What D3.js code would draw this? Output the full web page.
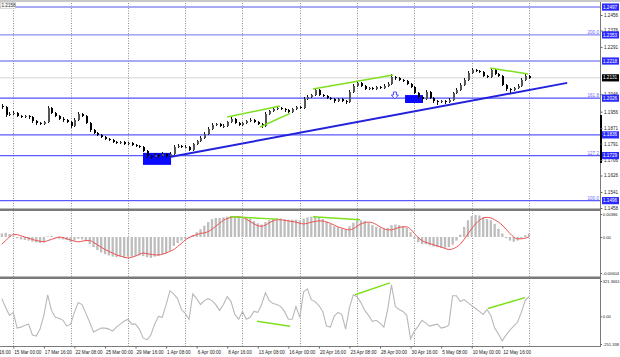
<!DOCTYPE html>
<html><head><meta charset="utf-8">
<script src="https://cdn.jsdelivr.net/npm/d3@7"></script>
<style>body{margin:0;background:#fff}svg{display:block}text{font-family:"Liberation Sans",Arial,sans-serif}</style>
</head><body><svg id="c" width="620" height="357"></svg>
<script>
// ---------- DATA ----------
const firstOpen = 1.1985;
const closes=[1.1980,1.1939,1.1944,1.1949,1.1933,1.1928,1.1933,1.1928,1.1907,1.1897,
1.1892,1.1902,1.1975,1.1949,1.1933,1.1918,1.1913,1.1902,1.1882,1.1913,
1.1944,1.1933,1.1897,1.1861,1.1846,1.1836,1.1825,1.1815,1.1810,1.1799,
1.1794,1.1799,1.1789,1.1794,1.1784,1.1779,1.1774,1.1753,1.1727,1.1722,
1.1732,1.1727,1.1737,1.1727,1.1737,1.1774,1.1779,1.1774,1.1774,1.1758,
1.1789,1.1805,1.1820,1.1841,1.1867,1.1887,1.1892,1.1882,1.1882,1.1902,
1.1918,1.1897,1.1887,1.1897,1.1907,1.1913,1.1902,1.1892,1.1882,1.1944,
1.1959,1.1970,1.1975,1.1970,1.1964,1.1954,1.1970,1.1980,1.1975,1.2021,
1.2032,1.2042,1.2068,1.2042,1.2037,1.2027,1.2021,1.2011,1.2021,1.2011,
1.2006,1.2058,1.2089,1.2104,1.2089,1.2073,1.2078,1.2073,1.2083,1.2078,
1.2089,1.2099,1.2135,1.2130,1.2120,1.2115,1.2099,1.2083,1.2052,1.2032,
1.2021,1.2058,1.2027,1.2011,1.2006,1.2011,1.2006,1.2017,1.2052,1.2068,
1.2094,1.2120,1.2156,1.2172,1.2166,1.2161,1.2141,1.2135,1.2172,1.2151,
1.2141,1.2094,1.2073,1.2068,1.2078,1.2089,1.2120,1.2141,1.2131];
const highs=[1.1996,1.1986,1.1952,1.1958,1.1955,1.1940,1.1941,1.1939,1.1934,1.1913,
1.1904,1.1910,1.1988,1.1982,1.1955,1.1940,1.1926,1.1919,1.1908,1.1921,
1.1952,1.1950,1.1939,1.1903,1.1868,1.1852,1.1842,1.1831,1.1822,1.1816,
1.1806,1.1807,1.1805,1.1801,1.1800,1.1790,1.1786,1.1780,1.1758,1.1734,
1.1740,1.1739,1.1745,1.1743,1.1746,1.1782,1.1788,1.1785,1.1783,1.1780,
1.1796,1.1812,1.1828,1.1849,1.1875,1.1895,1.1900,1.1898,1.1890,1.1910,
1.1927,1.1924,1.1903,1.1905,1.1915,1.1921,1.1919,1.1908,1.1898,1.1952,
1.1967,1.1978,1.1984,1.1981,1.1976,1.1970,1.1977,1.1988,1.1986,1.2030,
1.2040,1.2050,1.2079,1.2073,1.2048,1.2043,1.2033,1.2027,1.2029,1.2027,
1.2017,1.2066,1.2097,1.2114,1.2110,1.2095,1.2086,1.2084,1.2091,1.2089,
1.2097,1.2107,1.2150,1.2143,1.2137,1.2126,1.2121,1.2105,1.2089,1.2058,
1.2038,1.2066,1.2063,1.2033,1.2017,1.2019,1.2017,1.2025,1.2060,1.2076,
1.2102,1.2128,1.2165,1.2181,1.2178,1.2173,1.2167,1.2147,1.2180,1.2177,
1.2157,1.2147,1.2100,1.2079,1.2086,1.2097,1.2128,1.2149,1.2146];
const lows=[1.1972,1.1931,1.1933,1.1938,1.1926,1.1921,1.1922,1.1920,1.1900,1.1889,
1.1885,1.1886,1.1898,1.1942,1.1926,1.1911,1.1905,1.1895,1.1874,1.1877,
1.1908,1.1926,1.1890,1.1853,1.1839,1.1829,1.1818,1.1808,1.1803,1.1792,
1.1787,1.1788,1.1782,1.1783,1.1777,1.1772,1.1767,1.1746,1.1719,1.1712,
1.1716,1.1719,1.1720,1.1719,1.1721,1.1732,1.1768,1.1767,1.1766,1.1751,
1.1753,1.1783,1.1799,1.1814,1.1835,1.1861,1.1880,1.1875,1.1874,1.1876,
1.1896,1.1890,1.1880,1.1881,1.1891,1.1901,1.1895,1.1885,1.1872,1.1877,
1.1938,1.1953,1.1964,1.1963,1.1957,1.1947,1.1948,1.1964,1.1968,1.1970,
1.2015,1.2026,1.2037,1.2035,1.2030,1.2020,1.2014,1.2003,1.2005,1.2004,
1.1995,1.2000,1.2052,1.2083,1.2082,1.2066,1.2067,1.2066,1.2067,1.2071,
1.2072,1.2083,1.2094,1.2122,1.2113,1.2108,1.2092,1.2076,1.2045,1.2024,
1.2012,1.2016,1.2020,1.2003,1.1992,1.1999,1.1998,1.2000,1.2012,1.2046,
1.2062,1.2088,1.2114,1.2150,1.2159,1.2154,1.2134,1.2128,1.2130,1.2144,
1.2134,1.2087,1.2063,1.2054,1.2061,1.2072,1.2083,1.2114,1.2124];
const macdHist=[0.0006,0.0007,0.0005,0.0001,-0.0002,-0.0004,-0.0005,-0.0006,-0.0008,-0.0009,
-0.0010,-0.0009,0.0001,0.0002,-0.0001,-0.0003,-0.0004,-0.0005,-0.0008,-0.0006,
-0.0003,-0.0004,-0.0007,-0.0012,-0.0017,-0.0022,-0.0026,-0.0029,-0.0031,-0.0033,
-0.0034,-0.0033,-0.0034,-0.0033,-0.0033,-0.0032,-0.0031,-0.0032,-0.0034,-0.0035,
-0.0033,-0.0032,-0.0029,-0.0027,-0.0023,-0.0015,-0.0010,-0.0006,-0.0003,-0.0002,
0.0003,0.0008,0.0013,0.0019,0.0025,0.0030,0.0032,0.0032,0.0033,0.0034,
0.0035,0.0034,0.0033,0.0033,0.0032,0.0031,0.0027,0.0023,0.0021,0.0025,
0.0028,0.0030,0.0031,0.0031,0.0030,0.0029,0.0029,0.0029,0.0028,0.0031,
0.0033,0.0034,0.0035,0.0033,0.0030,0.0026,0.0022,0.0018,0.0016,0.0014,
0.0013,0.0018,0.0024,0.0028,0.0028,0.0027,0.0024,0.0020,0.0017,0.0015,
0.0014,0.0015,0.0020,0.0021,0.0020,0.0018,0.0015,0.0008,-0.0003,-0.0009,
-0.0012,-0.0012,-0.0014,-0.0016,-0.0017,-0.0018,-0.0018,-0.0017,-0.0013,-0.0006,
0.0004,0.0017,0.0028,0.0035,0.0037,0.0036,0.0033,0.0030,0.0028,0.0022,
0.0014,0.0006,-0.0002,-0.0006,-0.0008,-0.0006,-0.0002,0.0003,0.0006];
const macdSignal=[-0.0012,-0.0006,0.0000,0.0004,0.0004,0.0002,0.0000,-0.0002,-0.0004,-0.0006,
-0.0007,-0.0008,-0.0006,-0.0004,-0.0002,0.0000,-0.0001,-0.0003,-0.0005,-0.0007,
-0.0008,-0.0007,-0.0006,-0.0006,-0.0009,-0.0013,-0.0017,-0.0021,-0.0024,-0.0027,
-0.0030,-0.0032,-0.0034,-0.0035,-0.0034,-0.0032,-0.0029,-0.0027,-0.0028,-0.0029,
-0.0030,-0.0030,-0.0029,-0.0027,-0.0024,-0.0021,-0.0016,-0.0011,-0.0005,-0.0001,
0.0002,0.0004,0.0006,0.0007,0.0009,0.0013,0.0018,0.0023,0.0028,0.0031,
0.0033,0.0034,0.0034,0.0033,0.0030,0.0026,0.0022,0.0019,0.0018,0.0020,
0.0024,0.0027,0.0029,0.0029,0.0028,0.0027,0.0026,0.0025,0.0023,0.0022,
0.0023,0.0025,0.0026,0.0027,0.0027,0.0025,0.0023,0.0020,0.0017,0.0015,
0.0013,0.0012,0.0014,0.0018,0.0022,0.0024,0.0025,0.0024,0.0021,0.0017,
0.0014,0.0012,0.0012,0.0014,0.0016,0.0017,0.0017,0.0013,0.0006,-0.0001,
-0.0006,-0.0009,-0.0011,-0.0013,-0.0015,-0.0017,-0.0019,-0.0021,-0.0020,-0.0017,
-0.0012,-0.0004,0.0005,0.0014,0.0022,0.0028,0.0032,0.0033,0.0032,0.0029,
0.0025,0.0020,0.0013,0.0006,0.0000,-0.0003,-0.0003,-0.0002,0.0000];
const cci=[161,80,9,36,-107,-98,-80,-71,-170,-179,
-116,9,196,54,-9,-18,-36,-89,-71,36,
125,107,27,-54,-143,-125,-107,-107,-116,-134,
-98,-71,-45,-27,-71,-71,-116,-196,-214,-170,
-71,0,-9,107,232,205,161,62,27,-27,
205,161,107,143,161,143,107,54,107,179,
134,18,-27,45,-27,-9,45,36,107,214,
143,116,107,89,45,-27,-27,89,-9,223,
250,152,134,98,45,-89,-98,0,36,18,
-116,80,196,179,125,54,9,-45,-36,-62,
-98,62,286,89,62,45,9,-205,-134,-89,
-36,-62,-89,-80,-71,-107,-98,-80,187,187,
134,152,125,98,71,45,18,62,9,-107,
-161,-223,-170,-125,-89,-54,36,143,179];
// horizontal levels (price) and their fib labels
const levels=[1.2497,1.2353,1.2218,1.2026,1.1836,1.1729,1.1496];
const levelFib=["","200.0","","161.8","","127.2","100.0"];
const lastPrice=1.2131;
const priceTicks=[1.2456,1.2376,1.2291,1.2046,1.1956,1.1871,1.1791,1.1706,1.1626,1.1541,1.1458];
const macdTicks=[0.00386,0,-0.00604];
const macdTickLabels=["0.00386","0.00","-0.00604"];
const cciTicks=[321.3661,0,-251.338];
const cciTickLabels=["321.3661","0.00","-251.338"];
const timeLabels=["10 Mar 16:00","15 Mar 00:00","17 Mar 16:00","22 Mar 08:00","25 Mar 00:00","29 Mar 16:00","1 Apr 08:00","6 Apr 00:00","8 Apr 16:00","13 Apr 08:00","16 Apr 00:00","20 Apr 16:00","23 Apr 08:00","28 Apr 00:00","30 Apr 16:00","5 May 08:00","10 May 00:00","12 May 16:00"];
// drawn objects, in H4-bar time units (t) and values
const trendLine=[[82,1.1722],[290,1.2105]];
const priceGreen=[[[112,1.1929],[139.6,1.1985]],[[129.2,1.1877],[144.9,1.1947]],[[156.9,1.2073],[198.8,1.2146]],[[249.6,1.2182],[269.5,1.2151]]];
const macdGreen=[[[113.5,0.0034],[138.6,0.0030]],[[156.9,0.0034],[181.5,0.0029]]];
const cciGreen=[[[127.6,-45],[144.9,-89]],[[178.9,196],[197.2,304]],[[248.5,71],[267.9,170]]];
const boxes=[[67.9,82.6,1.1743,1.1681],[205.1,214.5,1.2042,1.2001]];
const arrowMark=[199.8,1.2032];

// ---------- LAYOUT ----------
const PR=600;
const svg=d3.select("#c");
const x=d3.scaleLinear().domain([0,270]).range([13.3,13.3+270*1.91]);
const tOf=i=>2*i-6;
const yP=d3.scaleLinear().domain([1.1458,1.2456]).range([208,15]);
const yM=d3.scaleLinear().domain([-0.00604,0.00386]).range([273,214]);
const yC=d3.scaleLinear().domain([-251.338,321.3661]).range([344,281]);
const FS=4.6, FSI=4.1;

const defs=svg.append("defs");
[["cm",3,209],["cmacd",212,277],["ccci",279,346]].forEach(([id,a,b])=>{
  defs.append("clipPath").attr("id",id).append("rect").attr("x",0).attr("y",a).attr("width",PR).attr("height",b-a);
});

svg.append("rect").attr("width",620).attr("height",357).attr("fill","#fff");
svg.append("rect").attr("x",0).attr("y",0).attr("width",620).attr("height",2).attr("fill","#c8c8c8");

// vertical weekly grid
const gridT=d3.range(0,271,30);
svg.append("g").selectAll("line").data(gridT).join("line")
  .attr("x1",d=>Math.round(x(d))+0.5).attr("x2",d=>Math.round(x(d))+0.5)
  .attr("y1",3).attr("y2",346).attr("stroke","#8c8c8c").attr("stroke-dasharray","1,1.5").attr("stroke-width",1);

// ---------- MAIN PANEL ----------
const gm=svg.append("g").attr("clip-path","url(#cm)");
const levelColor=["#8c8cf0","#8c8cf0","#8c8cf0","#5050ff","#5a5aff","#5a5aff","#5a5aff"];
gm.selectAll("line.lv").data(levels).join("line").attr("class","lv")
  .attr("x1",0).attr("x2",PR).attr("y1",d=>yP(d)).attr("y2",d=>yP(d))
  .attr("stroke",(d,i)=>levelColor[i]).attr("stroke-width",1.4);
gm.append("line").attr("x1",0).attr("x2",PR).attr("y1",yP(lastPrice)).attr("y2",yP(lastPrice))
  .attr("stroke","#c8c8c8").attr("stroke-width",0.8);
gm.selectAll("text.fib").data(levels).join("text").attr("class","fib")
  .attr("x",PR-1).attr("y",d=>yP(d)-0.8).attr("text-anchor","end").attr("font-size",FS)
  .attr("fill","#6a6aff").text((d,i)=>levelFib[i]);
gm.selectAll("rect.box").data(boxes).join("rect").attr("class","box")
  .attr("x",d=>x(d[0])).attr("width",d=>x(d[1])-x(d[0]))
  .attr("y",d=>yP(d[2])).attr("height",d=>yP(d[3])-yP(d[2])).attr("fill","#0a0aff");
gm.append("line").attr("x1",x(trendLine[0][0])).attr("y1",yP(trendLine[0][1]))
  .attr("x2",x(trendLine[1][0])).attr("y2",yP(trendLine[1][1])).attr("stroke","#2222dd").attr("stroke-width",2);

// candles
const bars=closes.map((c,i)=>({t:tOf(i),o:i?closes[i-1]:firstOpen,c,h:highs[i],l:lows[i]}));
const cg=gm.append("g").attr("shape-rendering","crispEdges");
cg.selectAll("line").data(bars).join("line")
  .attr("x1",d=>Math.round(x(d.t))+0.5).attr("x2",d=>Math.round(x(d.t))+0.5)
  .attr("y1",d=>yP(d.h)).attr("y2",d=>yP(d.l)).attr("stroke","#111").attr("stroke-width",1);
cg.selectAll("rect").data(bars).join("rect")
  .attr("x",d=>Math.round(x(d.t))-0.5).attr("width",2)
  .attr("y",d=>yP(Math.max(d.o,d.c))).attr("height",d=>Math.max(1,Math.abs(yP(d.o)-yP(d.c))))
  .attr("fill",d=>d.c>=d.o?"#555":"#000");

gm.selectAll("line.g").data(priceGreen).join("line").attr("class","g")
  .attr("x1",d=>x(d[0][0])).attr("y1",d=>yP(d[0][1])).attr("x2",d=>x(d[1][0])).attr("y2",d=>yP(d[1][1]))
  .attr("stroke","#7ee01e").attr("stroke-width",1.5);
// arrow marker
{const ax=x(arrowMark[0]), ay=yP(arrowMark[1]);
 gm.append("path").attr("d",`M${ax-1.5},${ay-5}h3v3h2l-3.5,4l-3.5,-4h2z`).attr("fill","#fff").attr("stroke","#3a3aff").attr("stroke-width",0.9);}

// ---------- MACD PANEL ----------
const gmac=svg.append("g").attr("clip-path","url(#cmacd)");
gmac.selectAll("rect").data(macdHist).join("rect")
  .attr("x",(d,i)=>x(tOf(i))-1.1).attr("width",2.3)
  .attr("y",d=>Math.min(yM(0),yM(d))).attr("height",d=>Math.abs(yM(d)-yM(0)))
  .attr("fill","#bdbdbd");
gmac.append("path").datum(macdSignal)
  .attr("d",d3.line().x((d,i)=>x(tOf(i))).y(d=>yM(d)).curve(d3.curveMonotoneX))
  .attr("fill","none").attr("stroke","#f05050").attr("stroke-width",1);
gmac.selectAll("line.g").data(macdGreen).join("line").attr("class","g")
  .attr("x1",d=>x(d[0][0])).attr("y1",d=>yM(d[0][1])).attr("x2",d=>x(d[1][0])).attr("y2",d=>yM(d[1][1]))
  .attr("stroke","#7ee01e").attr("stroke-width",1.5);

// ---------- CCI PANEL ----------
const gc=svg.append("g").attr("clip-path","url(#ccci)");
gc.append("path").datum(cci)
  .attr("d",d3.line().x((d,i)=>x(tOf(i))).y(d=>yC(d)))
  .attr("fill","none").attr("stroke","#b8b8b8").attr("stroke-width",1.1);
gc.selectAll("line.g").data(cciGreen).join("line").attr("class","g")
  .attr("x1",d=>x(d[0][0])).attr("y1",d=>yC(d[0][1])).attr("x2",d=>x(d[1][0])).attr("y2",d=>yC(d[1][1]))
  .attr("stroke","#7ee01e").attr("stroke-width",1.5);

// ---------- SEPARATORS / FRAME ----------
[[208.5],[276.5]].forEach(([y])=>svg.append("rect").attr("x",0).attr("y",y).attr("width",PR+1).attr("height",2.5).attr("fill","#7a7a7a"));
svg.append("line").attr("x1",0).attr("x2",PR+1).attr("y1",346.5).attr("y2",346.5).attr("stroke","#7a7a7a");
svg.append("line").attr("x1",PR+0.5).attr("x2",PR+0.5).attr("y1",2).attr("y2",347).attr("stroke","#7a7a7a");
svg.append("line").attr("x1",PR+1).attr("x2",PR+1).attr("y1",115).attr("y2",163).attr("stroke","#000").attr("stroke-width",2);

// ---------- AXES ----------
function styleAxis(fs){return g=>{g.select(".domain").remove();g.selectAll("line").attr("stroke","#666");g.selectAll("text").attr("font-size",fs).attr("fill","#222").attr("font-family","Liberation Sans, Arial, sans-serif");};}
svg.append("g").attr("transform",`translate(${PR+0.5},0)`)
  .call(d3.axisRight(yP).tickValues(priceTicks).tickFormat(d3.format(".4f")).tickSize(2).tickPadding(1.5)).call(styleAxis(FS));
svg.append("g").attr("transform",`translate(${PR+0.5},0)`)
  .call(d3.axisRight(yM).tickValues(macdTicks).tickFormat((d,i)=>macdTickLabels[i]).tickSize(1.5).tickPadding(0.8)).call(styleAxis(FSI));
svg.append("g").attr("transform",`translate(${PR+0.5},0)`)
  .call(d3.axisRight(yC).tickValues(cciTicks).tickFormat((d,i)=>cciTickLabels[i]).tickSize(1.5).tickPadding(0.8)).call(styleAxis(FSI));
const xa=svg.append("g").attr("transform","translate(0,346.5)")
  .call(d3.axisBottom(x).tickValues(timeLabels.map((d,k)=>16*(k-1))).tickFormat((d,i)=>timeLabels[i]).tickSize(2).tickPadding(2)).call(styleAxis(FS));
xa.selectAll("text").attr("text-anchor","start").attr("dx",0.5);

// price label boxes on the right axis
const lab=svg.append("g");
levels.forEach(p=>{
  lab.append("rect").attr("x",PR+2).attr("y",yP(p)-3.6).attr("width",17).attr("height",7.2).attr("fill","#2a2aff");
  lab.append("text").attr("x",PR+3).attr("y",yP(p)+1.6).attr("font-size",FS).attr("fill","#fff").text(d3.format(".4f")(p));
});
lab.append("rect").attr("x",PR+2).attr("y",yP(lastPrice)-3.6).attr("width",17).attr("height",7.2).attr("fill","#000");
lab.append("text").attr("x",PR+3).attr("y",yP(lastPrice)+1.6).attr("font-size",FS).attr("fill","#fff").text(d3.format(".4f")(lastPrice));

// top-left label
svg.append("rect").attr("x",0.5).attr("y",2.5).attr("width",15).attr("height",6).attr("fill","#f4f4f4").attr("stroke","#bbb").attr("stroke-width",0.5);
svg.append("text").attr("x",1.5).attr("y",7.3).attr("font-size",FS).attr("fill","#333").text("1.2158");
</script></body></html>
